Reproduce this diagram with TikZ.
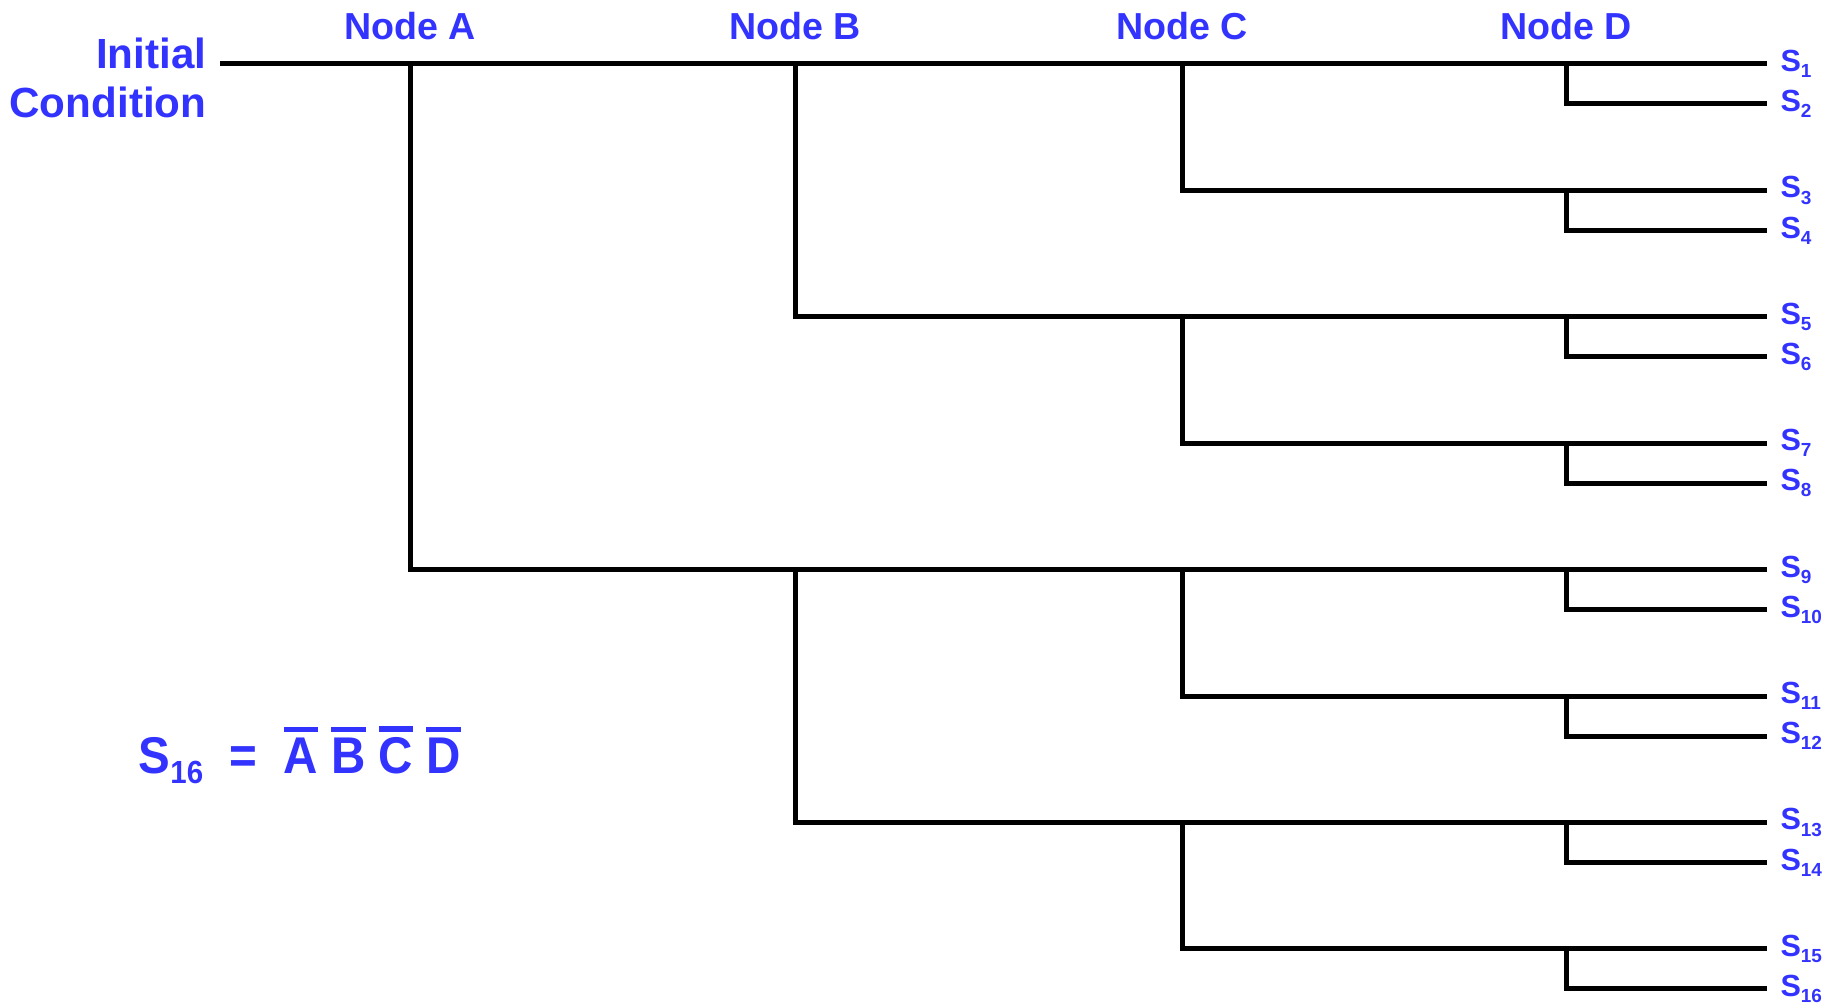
\documentclass[tikz,border=0pt]{standalone}
\usepackage{fontspec}
\usepackage{graphicx}
\setmainfont{Liberation Sans}
\usetikzlibrary{trees,positioning}
\definecolor{lblblue}{RGB}{51,51,255}
\newcommand{\ovl}[1]{\setbox0=\hbox{#1}\rlap{\raisebox{1.14\ht0}{\rule{\wd0}{0.16\ht0}}}\box0\relax}
\newcommand{\sub}[1]{\raisebox{-0.2em}{\scalebox{0.62}{#1}}}

\begin{document}
\begin{tikzpicture}[x=0.1mm,y=-0.1mm,
every node/.style={text=lblblue,inner sep=0pt},
branch/.style={line width=0.5mm},
hdr/.style={font=\fontsize{10.7}{12}\selectfont\bfseries},
title/.style={font=\fontsize{12}{14.2}\selectfont\bfseries,align=right},
leaf/.style={anchor=west,inner xsep=1.1mm,font=\fontsize{8.7}{10}\selectfont\bfseries},
eq/.style={font=\fontsize{14.7}{17}\selectfont\bfseries},
level 1/.style={grow via three points={one child at (190,0) and two children at (190,0) and (190,0)}},
level 2/.style={grow via three points={one child at (385,0) and two children at (385,0) and (385,505.6)}},
level 3/.style={grow via three points={one child at (387,0) and two children at (387,0) and (387,252.8)}},
level 4/.style={grow via three points={one child at (384,0) and two children at (384,0) and (384,126.4)}},
level 5/.style={grow via three points={one child at (201,0) and two children at (201,0) and (201,40)},child anchor=west},
edge from parent path={(\tikzparentnode\tikzparentanchor) |- (\tikzchildnode\tikzchildanchor)}
]
\useasboundingbox (0,0) rectangle (1826,1007);

\path[branch] (220,64) coordinate (root)
child {coordinate (nA)
  child {coordinate (nB1)
    child {coordinate (nC1)
      child {coordinate (nD1)
        child {node[leaf] (s1) {S\sub{1}}}
        child {node[leaf] (s2) {S\sub{2}}}}
      child {coordinate (nD2)
        child {node[leaf] (s3) {S\sub{3}}}
        child {node[leaf] (s4) {S\sub{4}}}}}
    child {coordinate (nC2)
      child {coordinate (nD3)
        child {node[leaf] (s5) {S\sub{5}}}
        child {node[leaf] (s6) {S\sub{6}}}}
      child {coordinate (nD4)
        child {node[leaf] (s7) {S\sub{7}}}
        child {node[leaf] (s8) {S\sub{8}}}}}} % <- end B1
  child {coordinate (nB2)
    child {coordinate (nC3)
      child {coordinate (nD5)
        child {node[leaf] (s9) {S\sub{9}}}
        child {node[leaf] (s10) {S\sub{10}}}}
      child {coordinate (nD6)
        child {node[leaf] (s11) {S\sub{11}}}
        child {node[leaf] (s12) {S\sub{12}}}}}
    child {coordinate (nC4)
      child {coordinate (nD7)
        child {node[leaf] (s13) {S\sub{13}}}
        child {node[leaf] (s14) {S\sub{14}}}}
      child {coordinate (nD8)
        child {node[leaf] (s15) {S\sub{15}}}
        child {node[leaf] (s16) {S\sub{16}}}}}}};

\node[hdr, above=2.35mm of nA] (hA) {Node A};
\node[hdr, above=2.35mm of nB1] (hB) {Node B};
\node[hdr, above=2.35mm of nC1] (hC) {Node C};
\node[hdr, above=2.35mm of nD1] (hD) {Node D};

\node[title, left=1.3mm of root, anchor=base east, yshift=-5.4mm] (init) {Initial\\Condition};

\node[eq, anchor=base west] (sum) at (138,773) {\scalebox{0.92}[1]{S\sub{16}\ \ =\ \ \ovl{A} \ovl{B} \ovl{C} \ovl{D}}};
\end{tikzpicture}
\end{document}
